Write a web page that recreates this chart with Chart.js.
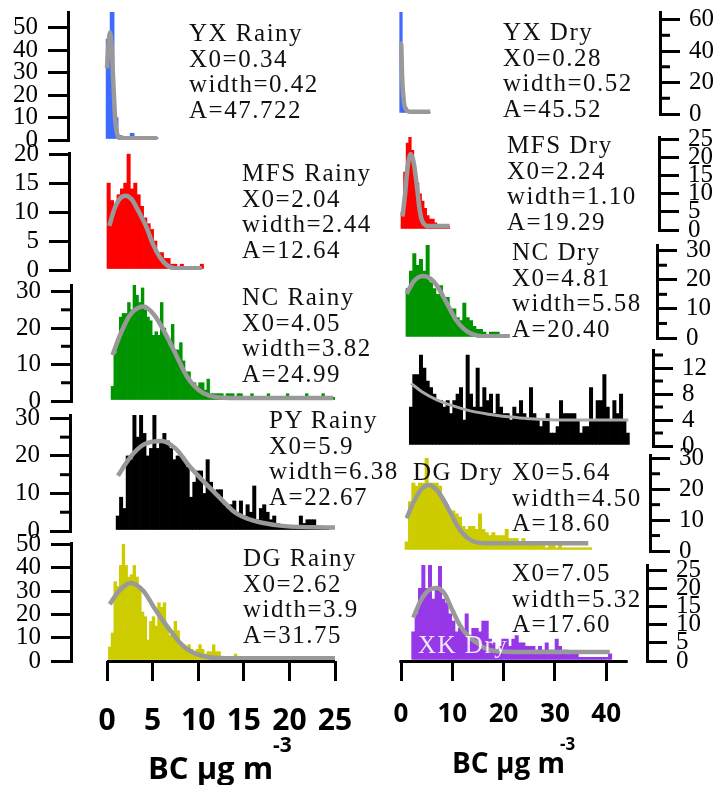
<!DOCTYPE html>
<html>
<head>
<meta charset="utf-8">
<script src="https://cdn.jsdelivr.net/npm/chart.js@4.4.1/dist/chart.umd.min.js"></script>
<style>
  html, body { margin: 0; padding: 0; background: #fff; overflow: hidden; width: 718px; height: 785px; }
  #wrap { position: relative; width: 718px; height: 785px; overflow: hidden; }
  #wrap canvas { position: absolute; left: 0; top: 0; }
  .note { position: absolute; font-family: 'Liberation Serif', serif; font-size: 25px; line-height: 25.7px;
          letter-spacing: 1.5px; color: #111; white-space: pre; z-index: 5; }
  .lab { position: absolute; font-family: 'Open Sans', sans-serif; font-weight: bold; line-height: 1;
         white-space: nowrap; color: #000; z-index: 5; }
</style>
</head>
<body>
<div id="wrap"></div>
<script>
// ---- tick labels ----
const xTicksRainy = [0, 5, 10, 15, 20, 25];
const xTicksDry = [0, 10, 20, 30, 40];
const yxRainyTicks = [0, 10, 20, 30, 40, 50];
const mfsRainyTicks = [0, 5, 10, 15, 20];
const ncRainyTicks = [0, 10, 20, 30];
const pyRainyTicks = [0, 10, 20, 30];
const dgRainyTicks = [0, 10, 20, 30, 40, 50];
const yxDryTicks = [0, 20, 40, 60];
const mfsDryTicks = [0, 5, 10, 15, 20, 25];
const ncDryTicks = [0, 10, 20, 30];
const pyDryTicks = [0, 4, 8, 12];
const dgDryTicks = [0, 10, 20, 30];
const xkDryTicks = [0, 5, 10, 15, 20, 25];

// ---- histogram counts (bin start / bin width / counts) ----
const yxRainyBins = [-0.1, 0.44];
const yxRainyCounts = [45, 57, 10, 2, 1, 1, 3, 1, 1, 1, 1, 1, 1];
const mfsRainyBins = [0, 0.365];
const mfsRainyCounts = [15, 12, 11, 13, 14, 15, 20, 14, 15, 13, 11, 9, 8, 7, 5, 3, 3, 2, 2, 1, 1, 0, 1, 0, 0, 0, 0, 0, 1];
const ncRainyBins = [0.45, 0.3];
const ncRainyCounts = [4, 13, 16, 23, 24, 24, 27, 25, 32, 29, 27, 31, 25, 23, 22, 18, 19, 18, 27, 20,
  18, 15, 21, 14, 14, 16, 11, 8, 8, 5, 5, 4, 5, 5, 3, 6, 2, 2, 2, 2, 2, 1, 2, 2, 2, 1, 2, 2,
  1, 1, 1, 2, 1, 1, 1, 1, 1, 2, 1, 1, 1, 1, 1, 1, 2, 1, 1, 1, 1, 1, 1, 2, 1, 1, 1, 1, 1, 2, 1, 1, 1, 1];
const pyRainyBins = [1.0, 0.365];
const pyRainyCounts = [4, 9, 6, 20, 19, 31, 25, 31, 26, 20, 22, 31, 22, 24, 26, 24, 22, 19, 20, 20,
  19, 17, 9, 13, 16, 16, 10, 19, 13, 10, 11, 11, 7, 6, 7, 8, 5, 8, 4, 7, 5, 12, 3, 6, 7, 5, 3, 4,
  2, 1, 1, 1, 1, 1, 1, 4, 2, 3, 3, 3, 1, 1, 1, 1];
const dgRainyBins = [0.15, 0.3];
const dgRainyCounts = [6, 12, 34, 32, 41, 50, 41, 36, 37, 41, 36, 32, 21, 19, 9, 17, 19, 15, 25, 23,
  25, 15, 11, 13, 17, 13, 8, 7, 5, 7, 5, 4, 5, 7, 5, 3, 4, 4, 7, 4, 4, 2, 2, 1, 2, 2, 3, 2,
  1, 1, 1, 1, 1, 1, 1, 1, 1, 1, 1, 1, 1, 1, 1, 1, 1, 1, 1, 1, 1, 1, 1, 1, 1, 1, 1, 1, 1, 1, 1, 1, 1, 1];
const yxDryBins = [-0.25, 0.5];
const yxDryCounts = [65, 12, 4, 2, 1, 1, 1, 1, 1, 1, 1, 1];
const mfsDryBins = [0, 0.5];
const mfsDryCounts = [5, 16, 24, 26, 22, 16, 13, 10, 8, 6, 4, 3, 3, 2, 1, 1, 1, 1, 1];
const ncDryBins = [0.97, 0.65];
const ncDryCounts = [17, 23, 29, 25, 27, 23, 32, 19, 17, 15, 18, 13, 14, 10, 10, 7, 6, 12, 7, 6,
  4, 3, 3, 2, 1, 2, 2, 2, 1, 1, 1];
const pyDryBins = [1.62, 0.65];
const pyDryCounts = [6, 11, 11, 14, 12, 10, 9, 8, 7, 7, 6, 7, 5, 7, 8, 9, 4, 14, 8, 6, 12, 6, 9, 7,
  8, 5, 8, 6, 5, 5, 4, 6, 5, 7, 5, 4, 9, 5, 4, 3, 4, 5, 2, 2, 3, 7, 5, 5, 5, 5, 4, 2, 3, 3,
  9, 4, 7, 7, 11, 6, 4, 7, 5, 8, 4, 2];
const dgDryBins = [0.78, 0.65];
const dgDryCounts = [3, 16, 22, 21, 22, 22, 30, 22, 22, 22, 21, 16, 15, 12, 13, 12, 11, 8, 7, 8,
  8, 7, 12, 7, 6, 5, 6, 5, 5, 5, 7, 4, 4, 4, 3, 4, 3, 3, 3, 2, 3, 2, 1, 2, 2, 1, 2, 1, 1, 1, 1, 1, 1, 1, 1, 1];
const xkDryBins = [2.08, 0.65];
const xkDryCounts = [8, 13, 20, 27, 20, 27, 17, 20, 26, 17, 16, 13, 11, 8, 9, 8, 13, 7, 9, 9,
  8, 11, 11, 6, 5, 3, 4, 6, 6, 4, 6, 7, 5, 5, 4, 4, 4, 3, 4, 3, 5, 3, 3, 6, 4, 3, 3, 2, 2, 2,
  1, 1, 1, 1, 1, 1, 1, 1, 1, 2];

// ---- gaussian fit curves ----
const yxRainyFitX = [0, 0.15, 0.33, 0.5, 0.7, 0.9, 1.1, 1.3, 2, 5.5];
const yxRainyFitY = [32, 42, 48, 42, 25, 9, 3, 1, 0.8, 0.8];
const mfsRainyFitX = [0.25, 0.8, 1.4, 2.05, 2.7, 3.4, 4.3, 5.0, 5.8, 6.6, 7.5, 10.4];
const mfsRainyFitY = [7.6, 10.5, 12.3, 12.8, 12.2, 10.3, 7.5, 4.6, 2.2, 0.8, 0.3, 0.3];
const ncRainyFitX = [0.6, 1.5, 2.5, 4.0, 5.2, 6.5, 7.6, 8.7, 9.7, 10.6, 12, 14, 24.8];
const ncRainyFitY = [12.6, 18.5, 23.5, 25.9, 23.5, 18, 12.5, 7, 3.8, 2.1, 1, 0.8, 0.8];
const pyRainyFitX = [1.2, 2.5, 4, 6, 7.5, 9.1, 10.4, 11.7, 13, 14, 15.5, 17, 19.5, 25];
const pyRainyFitY = [14.7, 19.5, 23, 24, 22, 17.1, 13.7, 10.5, 7.3, 5, 3.2, 2.2, 1.3, 0.9];
const dgRainyFitX = [0.3, 1.2, 2.6, 4, 5.1, 6.2, 7.3, 8.2, 9.1, 10.9, 13, 25];
const dgRainyFitY = [24.3, 29.5, 33.5, 30, 23.3, 17, 11.2, 7, 4.3, 1.8, 1.2, 1.2];
const yxDryFitX = [-0.3, 0.05, 0.2, 0.45, 0.7, 1.1, 1.6, 5.7];
const yxDryFitY = [45, 44, 25, 11, 5, 2.5, 1.5, 1.5];
const mfsDryFitX = [0.3, 0.8, 1.3, 1.9, 2.5, 3.1, 3.6, 4.0, 4.6, 5.2, 9.5];
const mfsDryFitY = [3.7, 10, 17.5, 21, 18.5, 12, 6, 3, 1.5, 1.1, 1.1];
const ncDryFitX = [1.1, 2.5, 4.3, 5.8, 7, 8.3, 9.6, 10.8, 12.1, 13.4, 14.7, 16, 21.2];
const ncDryFitY = [15.2, 19.5, 21.3, 20.3, 18, 14, 9.7, 6, 3.4, 1.7, 0.9, 0.6, 0.6];
const pyDryFitX = [2, 4, 7, 10, 13.5, 17, 21, 25, 30, 44.3];
const pyDryFitY = [9.6, 8.4, 7.1, 6.2, 5.4, 4.9, 4.5, 4.2, 4.0, 4.0];
const dgDryFitX = [1.1, 2.5, 4, 5.4, 7, 8.3, 9.6, 10.9, 12.2, 13.5, 15, 17, 36.5];
const dgDryFitY = [10.6, 16, 20, 21.4, 19.7, 16.5, 12.5, 8.4, 5.4, 3.6, 2.7, 2.5, 2.5];
const xkDryFitX = [2.4, 3.8, 5.3, 7, 8.5, 10, 11.5, 13, 14.7, 16.3, 18, 22, 40.7];
const xkDryFitY = [11.9, 16.5, 19.4, 20.1, 18.5, 14, 9.8, 7, 5.1, 3.6, 2.8, 2.5, 2.5];

// ---- annotation texts ----
const yxRainyNote = ['YX Rainy', 'X0=0.34', 'width=0.42', 'A=47.722'];
const mfsRainyNote = ['MFS Rainy', 'X0=2.04', 'width=2.44', 'A=12.64'];
const ncRainyNote = ['NC Rainy', 'X0=4.05', 'width=3.82', 'A=24.99'];
const pyRainyNote = ['PY Rainy', 'X0=5.9', 'width=6.38', 'A=22.67'];
const dgRainyNote = ['DG Rainy', 'X0=2.62', 'width=3.9', 'A=31.75'];
const yxDryNote = ['YX Dry', 'X0=0.28', 'width=0.52', 'A=45.52'];
const mfsDryNote = ['MFS Dry', 'X0=2.24', 'width=1.10', 'A=19.29'];
const ncDryNote = ['NC Dry', 'X0=4.81', 'width=5.58', 'A=20.40'];
const dgDryNote = ['X0=5.64', 'width=4.50', 'A=18.60'];
const xkDryNote = ['X0=7.05', 'width=5.32', 'A=17.60'];

// pixel geometry of the two x scales (value 0 position, px per unit)
const LX0 = 107, LXU = 9.12;
const RX0 = 401, RXU = 5.13;

const panels = [
  { side: 'left', axis: 68, top: 12, bottom: 140, yMax: 57.1, ticks: yxRainyTicks, minor: [], color: '#3d6bff', bins: yxRainyBins, counts: yxRainyCounts, fx: yxRainyFitX, fy: yxRainyFitY },
  { side: 'left', axis: 69, top: 153, bottom: 270, yMax: 20.2, ticks: mfsRainyTicks, minor: [], color: '#ff0000', bins: mfsRainyBins, counts: mfsRainyCounts, fx: mfsRainyFitX, fy: mfsRainyFitY },
  { side: 'left', axis: 71, top: 285, bottom: 401, yMax: 31.8, ticks: ncRainyTicks, minor: [5, 15, 25], color: '#009400', bins: ncRainyBins, counts: ncRainyCounts, fx: ncRainyFitX, fy: ncRainyFitY },
  { side: 'left', axis: 70, top: 415, bottom: 531, yMax: 30.9, ticks: pyRainyTicks, minor: [5, 15, 25], color: '#000000', bins: pyRainyBins, counts: pyRainyCounts, fx: pyRainyFitX, fy: pyRainyFitY },
  { side: 'left', axis: 71, top: 543, bottom: 661, yMax: 50.6, ticks: dgRainyTicks, minor: [], color: '#cccc00', bins: dgRainyBins, counts: dgRainyCounts, fx: dgRainyFitX, fy: dgRainyFitY,
    xTicks: xTicksRainy, xFont: 30, xPad: 22, base: [0, 25] },
  { side: 'right', axis: 660, top: 12, bottom: 114, yMax: 64.8, ticks: yxDryTicks, minor: [10, 30, 50], color: '#3d6bff', bins: yxDryBins, counts: yxDryCounts, fx: yxDryFitX, fy: yxDryFitY },
  { side: 'right', axis: 659, top: 137, bottom: 230, yMax: 25.7, ticks: mfsDryTicks, minor: [], color: '#ff0000', bins: mfsDryBins, counts: mfsDryCounts, fx: mfsDryFitX, fy: mfsDryFitY },
  { side: 'right', axis: 657, top: 245, bottom: 338, yMax: 31.95, ticks: ncDryTicks, minor: [5, 15, 25], color: '#009400', bins: ncDryBins, counts: ncDryCounts, fx: ncDryFitX, fy: ncDryFitY },
  { side: 'right', axis: 653, top: 350, bottom: 446, yMax: 14.77, ticks: pyDryTicks, minor: [2, 6, 10, 14], color: '#000000', bins: pyDryBins, counts: pyDryCounts, fx: pyDryFitX, fy: pyDryFitY, thin: true },
  { side: 'right', axis: 650, top: 455, bottom: 551, yMax: 31.07, ticks: dgDryTicks, minor: [5, 15, 25], color: '#cccc00', bins: dgDryBins, counts: dgDryCounts, fx: dgDryFitX, fy: dgDryFitY },
  { side: 'right', axis: 647, top: 565, bottom: 661, yMax: 26.4, ticks: xkDryTicks, minor: [], color: '#9638e8', bins: xkDryBins, counts: xkDryCounts, fx: xkDryFitX, fy: xkDryFitY,
    xTicks: xTicksDry, xFont: 26, xPad: 18, base: [-0.33, 44.2] }
];

// minor y ticks and the partial x baseline
const panelAxes = {
  id: 'panelAxes',
  afterDraw(chart, args, o) {
    const ctx = chart.ctx, y = chart.scales.y, x = chart.scales.x;
    const ax = o.side === 'left' ? chart.chartArea.left : chart.chartArea.right;
    ctx.save();
    ctx.strokeStyle = '#000';
    ctx.lineWidth = 3;
    o.minor.forEach(v => {
      const py = y.getPixelForValue(v);
      ctx.beginPath();
      ctx.moveTo(ax, py);
      ctx.lineTo(o.side === 'left' ? ax - 10 : ax + 10, py);
      ctx.stroke();
    });
    if (o.base) {
      const py = y.getPixelForValue(0) + 0.5;
      ctx.beginPath();
      ctx.moveTo(x.getPixelForValue(o.base[0]), py);
      ctx.lineTo(x.getPixelForValue(o.base[1]), py);
      ctx.stroke();
    }
    ctx.restore();
  }
};

const wrap = document.getElementById('wrap');
const serif = { family: "'Liberation Serif', serif", size: 25 };

panels.forEach(p => {
  const cv = document.createElement('canvas');
  cv.width = 718; cv.height = 785;
  wrap.appendChild(cv);

  const left = p.side === 'left';
  const xMin = left ? (p.axis - LX0) / LXU : -0.5;
  const xMax = left ? 25 : (p.axis - RX0) / RXU;
  const areaL = left ? p.axis : RX0 - 0.5 * RXU;
  const areaR = left ? LX0 + 25 * LXU : p.axis;
  const AW = left ? 60 : 718 - p.axis;
  const XH = p.xTicks ? 90 : 0;

  const bars = p.counts.map((c, i) => ({ x: p.bins[0] + (i + 0.5) * p.bins[1], y: c }));
  const fit = p.fx.map((x, i) => ({ x: x, y: p.fy[i] }));

  new Chart(cv, {
    type: 'bar',
    data: {
      datasets: [{
        type: 'line',
        data: fit,
        borderColor: p.thin ? '#a8a8a8' : '#999999',
        borderWidth: p.thin ? 3 : 4.5,
        pointRadius: 0,
        cubicInterpolationMode: 'monotone',
        order: 0
      }, {
        type: 'bar',
        data: bars,
        backgroundColor: p.color,
        borderWidth: 0,
        barPercentage: 1,
        categoryPercentage: 1,
        order: 1
      }]
    },
    options: {
      responsive: false,
      animation: false,
      devicePixelRatio: 1,
      layout: {
        padding: {
          left: left ? areaL - AW : areaL,
          right: left ? 718 - areaR : 0,
          top: p.top,
          bottom: 785 - p.bottom - XH
        }
      },
      plugins: {
        legend: { display: false },
        tooltip: { enabled: false },
        panelAxes: { side: p.side, minor: p.minor, base: p.base }
      },
      scales: {
        x: {
          type: 'linear',
          min: xMin,
          max: xMax,
          offset: false,
          display: !!p.xTicks,
          afterBuildTicks: s => { if (p.xTicks) s.ticks = p.xTicks.map(v => ({ value: v })); },
          afterFit: s => { if (p.xTicks) { s.height = XH; s.paddingLeft = 0; s.paddingRight = 0; } },
          ticks: {
            autoSkip: false, maxRotation: 0, padding: p.xPad || 0, color: '#000',
            font: { family: "'Open Sans', sans-serif", size: p.xFont || 20, weight: 'bold' }
          },
          grid: { offset: false, drawOnChartArea: false, tickLength: 20, lineWidth: 3, color: '#000' },
          border: { display: false }
        },
        y: {
          position: p.side,
          min: 0,
          max: p.yMax,
          afterBuildTicks: s => { s.ticks = p.ticks.map(v => ({ value: v })); },
          afterFit: s => { s.width = AW; s.paddingTop = 0; s.paddingBottom = 0; },
          ticks: { autoSkip: false, padding: left ? 10 : 9, color: '#000', font: serif },
          grid: { drawOnChartArea: false, tickLength: 20, lineWidth: 3, color: '#000' },
          border: { width: 3, color: '#000' }
        }
      }
    },
    plugins: [panelAxes]
  });
});

// annotation blocks
function note(lines, x, y, color) {
  const d = document.createElement('div');
  d.className = 'note';
  d.style.left = x + 'px';
  d.style.top = y + 'px';
  if (color) d.style.color = color;
  d.textContent = lines.join('\n');
  wrap.appendChild(d);
}
note(yxRainyNote, 189, 20);
note(mfsRainyNote, 242, 160);
note(ncRainyNote, 242, 284);
note(pyRainyNote, 269, 407);
note(dgRainyNote, 243, 545);
note(yxDryNote, 503, 19);
note(mfsDryNote, 507, 132);
note(ncDryNote, 512, 239);
note(['DG Dry'], 413, 459);
note(dgDryNote, 512, 459);
note(xkDryNote, 512, 560);
note(['XK Dry'], 418, 632, 'rgba(255,255,255,0.88)');

function label(text, x, y, size) {
  const d = document.createElement('div');
  d.className = 'lab';
  d.style.left = x + 'px';
  d.style.top = y + 'px';
  d.style.fontSize = size + 'px';
  d.textContent = text;
  wrap.appendChild(d);
}
label('BC μg m', 148, 752, 31);
label('-3', 273, 734, 21);
label('BC μg m', 452, 748, 28);
label('-3', 560, 735, 17);
</script>
</body>
</html>
